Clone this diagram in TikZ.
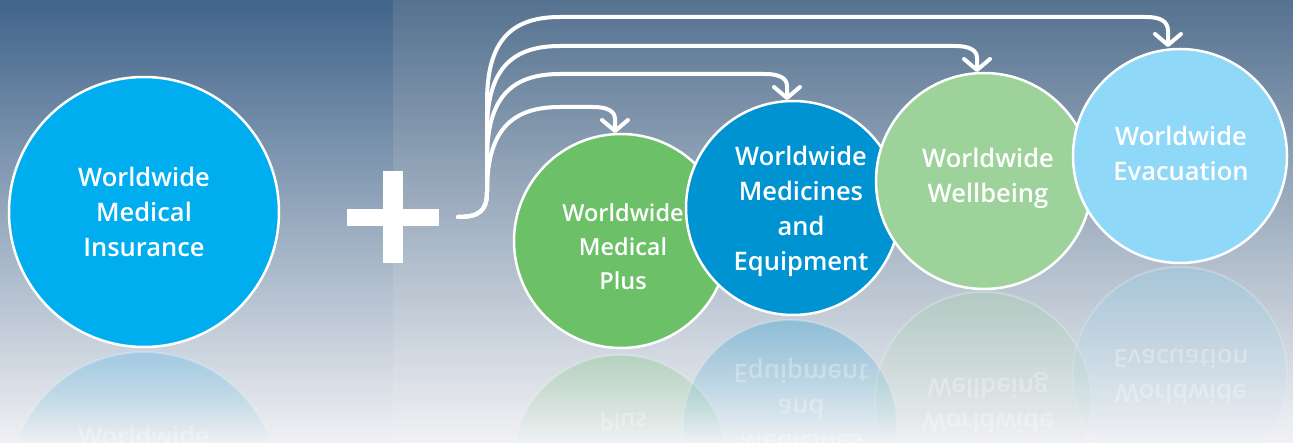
\documentclass[tikz,border=0pt]{standalone}
\usepackage{fontspec}
\IfFontExistsTF{Open Sans SemiBold}{%
  \setmainfont{Open Sans}[BoldFont={Open Sans SemiBold}]}{%
  \IfFontExistsTF{Open Sans Semibold}{%
    \setmainfont{Open Sans}[BoldFont={Open Sans Semibold}]}{%
    \setmainfont{Open Sans}}}
\usetikzlibrary{arrows.meta,fadings}
\definecolor{bgLtop}{HTML}{40648A}
\definecolor{bgLmid}{HTML}{8B9EB7}
\definecolor{bgLbot}{HTML}{F0F1F4}
\definecolor{bgRtop}{HTML}{557290}
\definecolor{bgRmid}{HTML}{98A9C0}
\definecolor{bgRbot}{HTML}{F1F2F5}
\definecolor{cInsur}{HTML}{00AEEF}
\definecolor{cPlus}{HTML}{6CC068}
\definecolor{cMed}{HTML}{0093D1}
\definecolor{cWell}{HTML}{9DD39B}
\definecolor{cEvac}{HTML}{8FD8F7}
\definecolor{cInsurRefl}{HTML}{7FC3E6}
\tikzfading[name=reflfade, top color=transparent!45, bottom color=transparent!100]
\tikzfading[name=reflfadeweak, top color=transparent!72, bottom color=transparent!100]
\newcommand\mkrefl[5]{%
  \begin{scope}
    \clip (#1,#2) circle (#3);
    \fill[#4, path fading=#5] (#1-#3,#2-#3) rectangle (#1+#3,443);
  \end{scope}
  \draw[white, line width=2pt, draw opacity=.45, path fading=reflfade] (#1,#2) circle (#3);
}
\begin{document}
\begin{tikzpicture}[x=1pt,y=-1pt,
  bubble/.style={circle, draw=white, line width=2.5pt, inner sep=0pt},
  btext/.style={text=white, align=center, font=\bfseries\fontsize{25.5}{35}\selectfont},
  stext/.style={btext, font=\bfseries\fontsize{23.5}{34}\selectfont},
  rtext/.style={text opacity=.3, yscale=-1},
  arr/.style={white, line width=4pt, line cap=round, line join=round,
    -{Straight Barb[length=11pt,width=26pt,round]}}]
\useasboundingbox (0,0) rectangle (1293,443);
% backgrounds
\shade[top color=bgLtop, middle color=bgLmid, bottom color=bgLbot] (0,0) rectangle (393,443);
\shade[top color=bgRtop, middle color=bgRmid, bottom color=bgRbot] (393,0) rectangle (1293,443);
% reflections
\mkrefl{144}{487}{135}{cInsurRefl}{reflfade}
\mkrefl{620}{462}{107}{cPlus}{reflfadeweak}
\mkrefl{790}{427}{107}{cMed}{reflfadeweak}
\mkrefl{983}{400}{108}{cWell}{reflfadeweak}
\mkrefl{1180}{374}{107}{cEvac}{reflfadeweak}
\node[btext, text opacity=.3] (r1t) at (144,436) {Worldwide};
\node[stext, rtext] (r2t) at (623,456) {Worldwide\\Medical\\Plus};
\node[btext, rtext] (r3t) at (801,424) {Worldwide\\Medicines\\and\\Equipment};
\node[btext, rtext] (r4t) at (988,403) {Worldwide\\Wellbeing};
\node[btext, rtext] (r5t) at (1181,377) {Worldwide\\Evacuation};
% plus sign
\fill[white] (383,171) rectangle (403,263);
\fill[white] (347,209) rectangle (439,226);
% circles
\node[bubble, fill=cInsur, minimum size=270pt] (c1) at (144,212) {};
\node[btext] (c1t) at (144,212) {Worldwide\\Medical\\Insurance};
\node[bubble, fill=cPlus, minimum size=214pt] (c2) at (621,241) {};
\node[stext] (c2t) at (623,247) {Worldwide\\Medical\\Plus};
\node[bubble, fill=cMed, minimum size=214pt] (c3) at (793,208) {};
\node[btext] (c3t) at (801,211) {Worldwide\\Medicines\\and\\Equipment};
\node[bubble, fill=cWell, minimum size=216pt] (c4) at (984,181) {};
\node[btext] (c4t) at (988,178) {Worldwide\\Wellbeing};
\node[bubble, fill=cEvac, minimum size=214pt] (c5) at (1180,156) {};
\node[btext] (c5t) at (1181,153) {Worldwide\\Evacuation};
% connectors
\coordinate (s) at (458,217);
\coordinate (t2) at (615,133);
\coordinate (t3) at (787,100);
\coordinate (t4) at (977,72);
\coordinate (t5) at (1168,47);
\draw[arr] (s) .. controls (479,217) and (487,211) .. (487,192)
  .. controls (487,132) and (510,107) .. (560,107) -- (593,107)
  .. controls (607,107) and (615,111) .. (615,119) -- (t2);
\draw[arr] (s) .. controls (479,217) and (487,211) .. (487,192) -- (487,159)
  .. controls (487,99) and (510,74) .. (560,74) -- (765,74)
  .. controls (779,74) and (787,78) .. (787,86) -- (t3);
\draw[arr] (s) .. controls (479,217) and (487,211) .. (487,192) -- (487,131)
  .. controls (487,71) and (510,46) .. (560,46) -- (955,46)
  .. controls (969,46) and (977,50) .. (977,58) -- (t4);
\draw[arr] (s) .. controls (479,217) and (487,211) .. (487,192) -- (487,102)
  .. controls (487,42) and (510,17) .. (560,17) -- (1146,17)
  .. controls (1160,17) and (1168,21) .. (1168,31) -- (t5);
\end{tikzpicture}
\end{document}
